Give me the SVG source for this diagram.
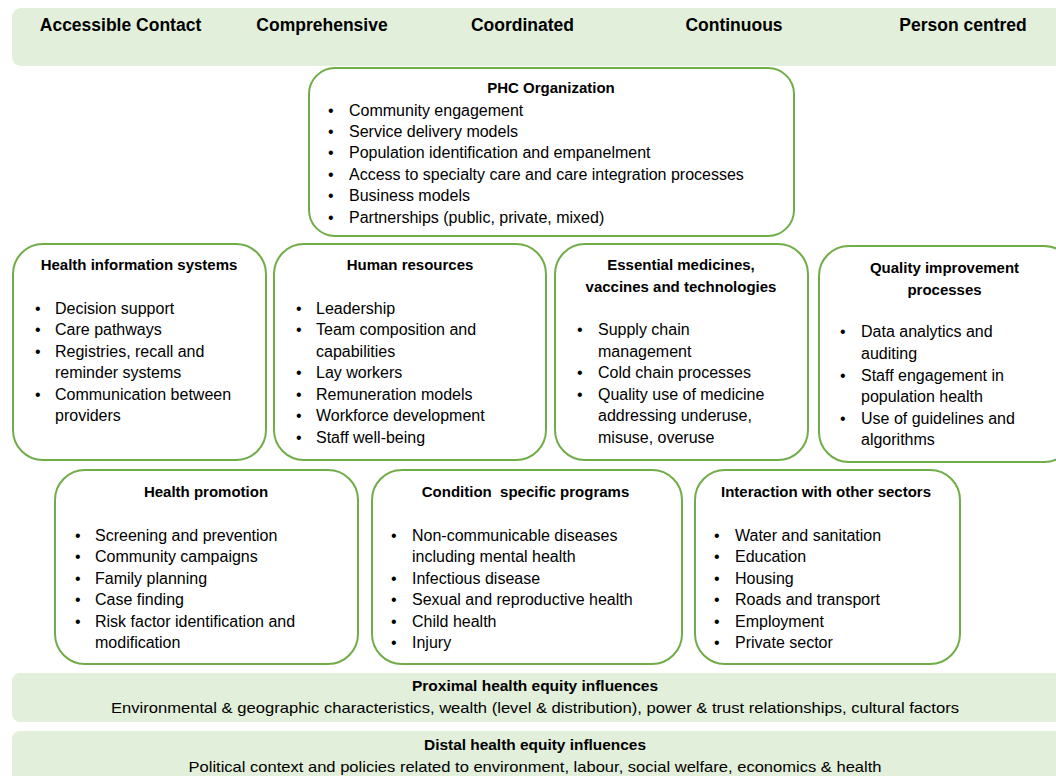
<svg xmlns="http://www.w3.org/2000/svg" width="1056" height="776" viewBox="0 0 1056 776">
<style>
.band{fill:#e2efda;stroke:none}
.box{fill:#ffffff;stroke:#70ad47;stroke-width:2}
.hdr{font-family:"Liberation Sans",Arial,sans-serif;font-size:17.5px;font-weight:bold;fill:#000;text-anchor:middle}
.ttl{font-family:"Liberation Sans",Arial,sans-serif;font-size:15px;font-weight:bold;fill:#000;text-anchor:middle}
.t{font-family:"Liberation Sans",Arial,sans-serif;font-size:16px;fill:#000}
.sub{font-family:"Liberation Sans",Arial,sans-serif;font-size:15px;fill:#000;text-anchor:middle}
</style>
<rect width="1056" height="776" fill="#ffffff"/>
<g id="top-band">
<rect class="band" x="12" y="8" width="1060" height="58" rx="9"/>
<text class="hdr" x="120.5" y="31">Accessible Contact</text>
<text class="hdr" x="322" y="31">Comprehensive</text>
<text class="hdr" x="522.5" y="31">Coordinated</text>
<text class="hdr" x="734" y="31">Continuous</text>
<text class="hdr" x="963" y="31">Person centred</text>
</g>
<g id="phc-organization">
<rect class="box" x="309" y="68" width="485" height="168" rx="26"/>
<text class="ttl" x="551" y="93">PHC Organization</text>
<g class="t">
<text x="328" y="115.5">•</text><text x="349" y="115.5">Community engagement</text>
<text x="328" y="136.5">•</text><text x="349" y="136.5">Service delivery models</text>
<text x="328" y="157.5">•</text><text x="349" y="157.5">Population identification and empanelment</text>
<text x="328" y="179.5">•</text><text x="349" y="179.5">Access to specialty care and care integration processes</text>
<text x="328" y="200.5">•</text><text x="349" y="200.5">Business models</text>
<text x="328" y="222.5">•</text><text x="349" y="222.5">Partnerships (public, private, mixed)</text>
</g>
</g>
<g id="health-information-systems">
<rect class="box" x="13" y="244" width="253" height="216" rx="30"/>
<text class="ttl" x="139" y="270">Health information systems</text>
<g class="t">
<text x="35" y="313.5">•</text><text x="55" y="313.5">Decision support</text>
<text x="35" y="334.5">•</text><text x="55" y="334.5">Care pathways</text>
<text x="35" y="356.5">•</text><text x="55" y="356.5">Registries, recall and</text>
<text x="55" y="377.5">reminder systems</text>
<text x="35" y="399.5">•</text><text x="55" y="399.5">Communication between</text>
<text x="55" y="420.5">providers</text>
</g>
</g>
<g id="human-resources">
<rect class="box" x="274" y="244" width="272" height="216" rx="30"/>
<text class="ttl" x="410" y="270">Human resources</text>
<g class="t">
<text x="296" y="313.5">•</text><text x="316" y="313.5">Leadership</text>
<text x="296" y="334.5">•</text><text x="316" y="334.5">Team composition and</text>
<text x="316" y="356.5">capabilities</text>
<text x="296" y="377.5">•</text><text x="316" y="377.5">Lay workers</text>
<text x="296" y="399.5">•</text><text x="316" y="399.5">Remuneration models</text>
<text x="296" y="420.5">•</text><text x="316" y="420.5">Workforce development</text>
<text x="296" y="442.5">•</text><text x="316" y="442.5">Staff well-being</text>
</g>
</g>
<g id="essential-medicines">
<rect class="box" x="555" y="244" width="253" height="216" rx="30"/>
<text class="ttl" x="681" y="270">Essential medicines,</text>
<text class="ttl" x="681" y="292">vaccines and technologies</text>
<g class="t">
<text x="577" y="334.5">•</text><text x="598" y="334.5">Supply chain</text>
<text x="598" y="356.5">management</text>
<text x="577" y="377.5">•</text><text x="598" y="377.5">Cold chain processes</text>
<text x="577" y="399.5">•</text><text x="598" y="399.5">Quality use of medicine</text>
<text x="598" y="420.5">addressing underuse,</text>
<text x="598" y="442.5">misuse, overuse</text>
</g>
</g>
<g id="quality-improvement">
<rect class="box" x="819" y="246" width="255" height="216" rx="30"/>
<text class="ttl" x="944.5" y="273">Quality improvement</text>
<text class="ttl" x="944.5" y="295">processes</text>
<g class="t">
<text x="840" y="336.5">•</text><text x="861" y="336.5">Data analytics and</text>
<text x="861" y="358.5">auditing</text>
<text x="840" y="380.5">•</text><text x="861" y="380.5">Staff engagement in</text>
<text x="861" y="401.5">population health</text>
<text x="840" y="423.5">•</text><text x="861" y="423.5">Use of guidelines and</text>
<text x="861" y="444.5">algorithms</text>
</g>
</g>
<g id="health-promotion">
<rect class="box" x="55" y="470" width="303" height="194" rx="30"/>
<text class="ttl" x="206" y="497">Health promotion</text>
<g class="t">
<text x="75" y="540.5">•</text><text x="95" y="540.5">Screening and prevention</text>
<text x="75" y="561.5">•</text><text x="95" y="561.5">Community campaigns</text>
<text x="75" y="583.5">•</text><text x="95" y="583.5">Family planning</text>
<text x="75" y="604.5">•</text><text x="95" y="604.5">Case finding</text>
<text x="75" y="626.5">•</text><text x="95" y="626.5">Risk factor identification and</text>
<text x="95" y="647.5">modification</text>
</g>
</g>
<g id="condition-specific-programs">
<rect class="box" x="372" y="470" width="310" height="194" rx="30"/>
<text class="ttl" x="525.5" y="497" xml:space="preserve">Condition  specific programs</text>
<g class="t">
<text x="391" y="540.5">•</text><text x="412" y="540.5">Non-communicable diseases</text>
<text x="412" y="561.5">including mental health</text>
<text x="391" y="583.5">•</text><text x="412" y="583.5">Infectious disease</text>
<text x="391" y="604.5">•</text><text x="412" y="604.5">Sexual and reproductive health</text>
<text x="391" y="626.5">•</text><text x="412" y="626.5">Child health</text>
<text x="391" y="647.5">•</text><text x="412" y="647.5">Injury</text>
</g>
</g>
<g id="interaction-other-sectors">
<rect class="box" x="695" y="470" width="265" height="194" rx="30"/>
<text class="ttl" x="826" y="497">Interaction with other sectors</text>
<g class="t">
<text x="714" y="540.5">•</text><text x="735" y="540.5">Water and sanitation</text>
<text x="714" y="561.5">•</text><text x="735" y="561.5">Education</text>
<text x="714" y="583.5">•</text><text x="735" y="583.5">Housing</text>
<text x="714" y="604.5">•</text><text x="735" y="604.5">Roads and transport</text>
<text x="714" y="626.5">•</text><text x="735" y="626.5">Employment</text>
<text x="714" y="647.5">•</text><text x="735" y="647.5">Private sector</text>
</g>
</g>
<g id="proximal-influences">
<rect class="band" x="12" y="673" width="1060" height="49" rx="8"/>
<text class="ttl" x="535" y="691" textLength="246" lengthAdjust="spacingAndGlyphs">Proximal health equity influences</text>
<text class="sub" x="535" y="713" textLength="848" lengthAdjust="spacingAndGlyphs">Environmental &amp; geographic characteristics, wealth (level &amp; distribution), power &amp; trust relationships, cultural factors</text>
</g>
<g id="distal-influences">
<rect class="band" x="12" y="731" width="1060" height="60" rx="8"/>
<text class="ttl" x="535" y="750" textLength="222" lengthAdjust="spacingAndGlyphs">Distal health equity influences</text>
<text class="sub" x="535" y="772" textLength="693" lengthAdjust="spacingAndGlyphs">Political context and policies related to environment, labour, social welfare, economics &amp; health</text>
</g>
<g id="connectors"></g>
</svg>
